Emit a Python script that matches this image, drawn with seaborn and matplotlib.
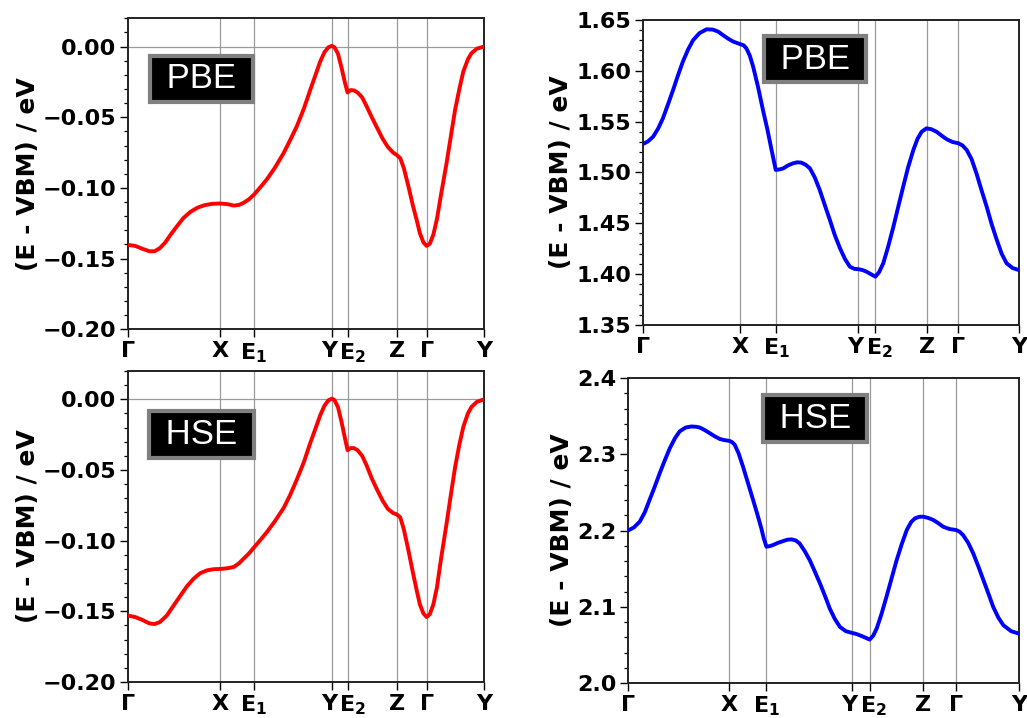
import matplotlib
matplotlib.use("Agg")
import matplotlib.pyplot as plt
import matplotlib.transforms as mtransforms
import seaborn as sns
import numpy as np
import pandas as pd
from matplotlib.ticker import MultipleLocator

# High-symmetry points along the k-path (fractional path length)
kpoint_labels = ["Γ", "X", "E$_1$", "Y", "E$_2$", "Z", "Γ", "Y"]
kpoint_pos = [0.0, 0.259, 0.354, 0.573, 0.618, 0.755, 0.839, 1.0]

# Valence band top, PBE
k_vb_pbe = [0.000, 0.020, 0.040, 0.060, 0.075, 0.090, 0.105, 0.120, 0.138, 0.155,
            0.175, 0.195, 0.215, 0.235, 0.259, 0.280, 0.297, 0.312, 0.325, 0.340,
            0.355, 0.372, 0.390, 0.412, 0.437, 0.455, 0.474, 0.494, 0.512, 0.527,
            0.540, 0.552, 0.563, 0.573, 0.580, 0.590, 0.600, 0.610, 0.617, 0.625,
            0.635, 0.645, 0.658, 0.670, 0.685, 0.700, 0.715, 0.730, 0.745, 0.755,
            0.765, 0.775, 0.788, 0.800, 0.811, 0.820, 0.830, 0.839, 0.848, 0.858,
            0.868, 0.880, 0.895, 0.908, 0.919, 0.931, 0.942, 0.955, 0.965, 0.980,
            1.000]
e_vb_pbe = [-0.1403, -0.1410, -0.1430, -0.1448, -0.1448, -0.1425, -0.1385, -0.1330, -0.1270, -0.1215,
            -0.1170, -0.1140, -0.1122, -0.1113, -0.1110, -0.1115, -0.1125, -0.1120, -0.1105, -0.1080,
            -0.1045, -0.0995, -0.0940, -0.0860, -0.0755, -0.0665, -0.0566, -0.0440, -0.0307, -0.0200,
            -0.0106, -0.0040, -0.0005, 0.0005, -0.0005, -0.0050, -0.0150, -0.0260, -0.0325, -0.0308,
            -0.0310, -0.0325, -0.0360, -0.0420, -0.0500, -0.0575, -0.0650, -0.0710, -0.0750, -0.0767,
            -0.0790, -0.0860, -0.0990, -0.1120, -0.1226, -0.1320, -0.1385, -0.1410, -0.1395, -0.1330,
            -0.1220, -0.1040, -0.0825, -0.0620, -0.0448, -0.0300, -0.0177, -0.0090, -0.0047, -0.0015,
            0.0000]

# Valence band top, HSE
k_vb_hse = [0.000, 0.020, 0.040, 0.060, 0.075, 0.090, 0.109, 0.128, 0.147, 0.165,
            0.184, 0.203, 0.222, 0.240, 0.259, 0.280, 0.297, 0.312, 0.325, 0.340,
            0.355, 0.372, 0.390, 0.412, 0.437, 0.455, 0.474, 0.494, 0.512, 0.527,
            0.540, 0.552, 0.563, 0.573, 0.580, 0.590, 0.600, 0.610, 0.617, 0.625,
            0.635, 0.645, 0.658, 0.670, 0.685, 0.700, 0.715, 0.730, 0.745, 0.755,
            0.765, 0.775, 0.788, 0.800, 0.811, 0.820, 0.830, 0.839, 0.848, 0.858,
            0.868, 0.880, 0.895, 0.908, 0.919, 0.931, 0.942, 0.955, 0.965, 0.980,
            1.000]
e_vb_hse = [-0.1530, -0.1540, -0.1560, -0.1585, -0.1590, -0.1575, -0.1530, -0.1460, -0.1390, -0.1325,
            -0.1270, -0.1230, -0.1210, -0.1202, -0.1200, -0.1195, -0.1186, -0.1160, -0.1127, -0.1090,
            -0.1045, -0.0995, -0.0940, -0.0865, -0.0770, -0.0680, -0.0570, -0.0445, -0.0310, -0.0205,
            -0.0113, -0.0045, -0.0007, 0.0005, -0.0005, -0.0055, -0.0160, -0.0280, -0.0360, -0.0345,
            -0.0345, -0.0360, -0.0400, -0.0465, -0.0560, -0.0640, -0.0715, -0.0775, -0.0805, -0.0814,
            -0.0835, -0.0920, -0.1070, -0.1220, -0.1350, -0.1450, -0.1515, -0.1540, -0.1520, -0.1450,
            -0.1330, -0.1120, -0.0880, -0.0660, -0.0480, -0.0320, -0.0196, -0.0100, -0.0054, -0.0018,
            0.0000]

# Conduction band bottom, PBE
k_cb_pbe = [0.000, 0.013, 0.027, 0.040, 0.053, 0.066, 0.080, 0.093, 0.106, 0.120,
            0.133, 0.150, 0.169, 0.186, 0.200, 0.213, 0.227, 0.240, 0.260, 0.268,
            0.275, 0.284, 0.293, 0.306, 0.319, 0.331, 0.342, 0.353, 0.363, 0.373,
            0.386, 0.399, 0.410, 0.421, 0.433, 0.444, 0.457, 0.470, 0.483, 0.497,
            0.510, 0.524, 0.537, 0.550, 0.562, 0.574, 0.584, 0.594, 0.606, 0.618,
            0.628, 0.639, 0.652, 0.666, 0.679, 0.692, 0.705, 0.719, 0.730, 0.741,
            0.754, 0.767, 0.781, 0.795, 0.808, 0.823, 0.839, 0.850, 0.861, 0.874,
            0.887, 0.900, 0.914, 0.927, 0.941, 0.954, 0.967, 0.983, 1.000]
e_cb_pbe = [1.5280, 1.5305, 1.5352, 1.5430, 1.5533, 1.5665, 1.5811, 1.5955, 1.6090, 1.6210,
            1.6300, 1.6370, 1.6408, 1.6405, 1.6385, 1.6350, 1.6315, 1.6287, 1.6260, 1.6250,
            1.6220, 1.6150, 1.6040, 1.5840, 1.5615, 1.5420, 1.5220, 1.5025, 1.5030, 1.5040,
            1.5070, 1.5090, 1.5100, 1.5097, 1.5075, 1.5040, 1.4950, 1.4828, 1.4685, 1.4533,
            1.4385, 1.4254, 1.4150, 1.4074, 1.4052, 1.4048, 1.4040, 1.4025, 1.4000, 1.3975,
            1.4020, 1.4107, 1.4270, 1.4467, 1.4665, 1.4860, 1.5050, 1.5221, 1.5330, 1.5400,
            1.5434, 1.5425, 1.5400, 1.5360, 1.5326, 1.5300, 1.5287, 1.5265, 1.5221, 1.5130,
            1.4990, 1.4830, 1.4664, 1.4495, 1.4336, 1.4200, 1.4107, 1.4060, 1.4040]

# Conduction band bottom, HSE
k_cb_hse = [0.000, 0.015, 0.030, 0.043, 0.055, 0.068, 0.081, 0.094, 0.107, 0.120,
            0.132, 0.147, 0.162, 0.175, 0.184, 0.197, 0.209, 0.222, 0.235, 0.247,
            0.259, 0.266, 0.273, 0.283, 0.294, 0.307, 0.320, 0.331, 0.341, 0.347,
            0.354, 0.362, 0.371, 0.384, 0.397, 0.408, 0.418, 0.429, 0.439, 0.452,
            0.465, 0.478, 0.491, 0.504, 0.516, 0.529, 0.542, 0.557, 0.573, 0.583,
            0.593, 0.605, 0.618, 0.627, 0.636, 0.648, 0.661, 0.674, 0.687, 0.700,
            0.713, 0.724, 0.734, 0.745, 0.755, 0.768, 0.781, 0.794, 0.806, 0.822,
            0.839, 0.848, 0.857, 0.870, 0.883, 0.896, 0.909, 0.922, 0.934, 0.947,
            0.960, 0.980, 1.000]
e_cb_hse = [2.2000, 2.2040, 2.2116, 2.2240, 2.2400, 2.2570, 2.2750, 2.2920, 2.3080, 2.3210,
            2.3300, 2.3350, 2.3365, 2.3360, 2.3350, 2.3315, 2.3277, 2.3235, 2.3200, 2.3185,
            2.3176, 2.3160, 2.3124, 2.3010, 2.2840, 2.2620, 2.2400, 2.2210, 2.2028, 2.1900,
            2.1788, 2.1795, 2.1810, 2.1840, 2.1862, 2.1880, 2.1884, 2.1870, 2.1830, 2.1730,
            2.1610, 2.1460, 2.1306, 2.1140, 2.0977, 2.0840, 2.0736, 2.0680, 2.0657, 2.0645,
            2.0626, 2.0600, 2.0570, 2.0620, 2.0714, 2.0900, 2.1130, 2.1370, 2.1610, 2.1820,
            2.2007, 2.2110, 2.2160, 2.2180, 2.2182, 2.2165, 2.2138, 2.2095, 2.2050, 2.2020,
            2.2007, 2.1985, 2.1940, 2.1840, 2.1700, 2.1530, 2.1350, 2.1170, 2.0999, 2.0860,
            2.0758, 2.0680, 2.0648]

sns.set_style("ticks")
plt.rcParams["font.family"] = ["DejaVu Sans"]
plt.rcParams["font.weight"] = "bold"
plt.rcParams["mathtext.default"] = "bf"
for key in ("text.color", "axes.labelcolor", "xtick.color", "ytick.color", "axes.edgecolor"):
    plt.rcParams[key] = "black"

fig = plt.figure(figsize=(10.27, 7.18), dpi=100)

panels = [
    # (axes rect, k, E, colour, ylim, major, minor, decimals, label, label pos, zero line)
    ([0.1246, 0.5414, 0.3466, 0.4331], k_vb_pbe, e_vb_pbe, "red",
     (-0.20, 0.02), 0.05, 0.01, 2, "PBE", (0.206, 0.805), True),
    ([0.6261, 0.5474, 0.3661, 0.4248], k_cb_pbe, e_cb_pbe, "blue",
     (1.35, 1.65), 0.05, 0.01, 2, "PBE", (0.457, 0.872), False),
    ([0.1246, 0.0501, 0.3466, 0.4331], k_vb_hse, e_vb_hse, "red",
     (-0.20, 0.02), 0.05, 0.01, 2, "HSE", (0.206, 0.797), True),
    ([0.6115, 0.0487, 0.3807, 0.4248], k_cb_hse, e_cb_hse, "blue",
     (2.00, 2.40), 0.1, 0.02, 1, "HSE", (0.478, 0.866), False),
]

for rect, k, e, color, ylim, major, minor, dec, name, pos, zero in panels:
    ax = fig.add_axes(rect)
    df = pd.DataFrame({"k": k, "E": e})
    for xp in kpoint_pos[1:-1]:
        ax.axvline(xp, color="#9a9a9a", lw=0.9, zorder=1)
    if zero:
        ax.axhline(0.0, color="#9a9a9a", lw=0.9, zorder=1)
    sns.lineplot(data=df, x="k", y="E", ax=ax, color=color, lw=2.8,
                 estimator=None, sort=False, zorder=3)
    ax.set_xlim(0, 1)
    ax.set_ylim(*ylim)
    ax.set_xticks(kpoint_pos)
    ax.set_xticklabels(kpoint_labels)
    ax.yaxis.set_minor_locator(MultipleLocator(minor))
    ticks = np.round(np.arange(ylim[0], ylim[1] + 1e-9, major), 4)
    ax.set_yticks(ticks)
    labels = []
    for t in ticks:
        s = f"{abs(t):.{dec}f}"
        labels.append(("\u2212" + s) if t < -1e-9 else s)
    ax.set_yticklabels(labels)
    ax.tick_params(axis="both", which="major", direction="out", length=5.5,
                   width=1.0, labelsize=16, pad=3)
    ax.tick_params(axis="y", which="minor", direction="out", length=3, width=0.9)
    for lab in ax.get_xticklabels() + ax.get_yticklabels():
        lab.set_fontweight("bold")
    # nudge the closely spaced Y / E2 labels apart
    xl = ax.get_xticklabels()
    xl[3].set_transform(xl[3].get_transform() +
                        mtransforms.ScaledTranslation(-2 / 72, 0, fig.dpi_scale_trans))
    xl[4].set_transform(xl[4].get_transform() +
                        mtransforms.ScaledTranslation(3 / 72, 0, fig.dpi_scale_trans))
    for sp in ax.spines.values():
        sp.set_linewidth(1.4)
        sp.set_color("#222222")
    ax.set_xlabel("")
    ax.set_ylabel("(E - VBM) / eV", fontsize=18, fontweight="bold", labelpad=2)
    ax.text(pos[0], pos[1], " " + name + " ", transform=ax.transAxes,
            ha="center", va="center", fontsize=25, color="white",
            family="Liberation Sans", fontweight="normal", zorder=5,
            bbox=dict(boxstyle="square,pad=0.2", facecolor="black",
                      edgecolor="#808080", linewidth=3))

fig.savefig("out.png", dpi=100)
